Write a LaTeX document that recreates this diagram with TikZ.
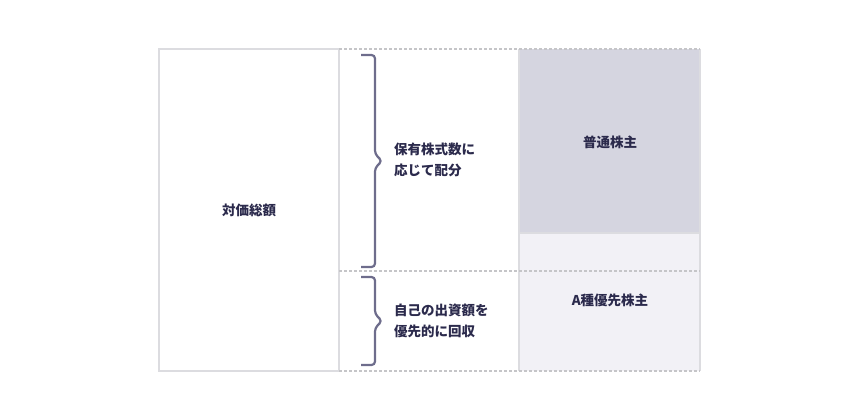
\documentclass[tikz,border=0pt]{standalone}
\usepackage{fontspec}
\newfontfamily\cjk{Noto Sans CJK JP}
\definecolor{ln}{HTML}{DCDCE0}
\definecolor{dk}{HTML}{D5D5E0}
\definecolor{lt}{HTML}{F2F1F6}
\definecolor{br}{HTML}{6E6D8C}
\definecolor{tx}{HTML}{2B2A4C}
\tikzset{lbl/.style={font=\cjk\bfseries\fontsize{13.5}{21}\selectfont,text=tx,align=left,inner sep=0pt},
 sep/.style={draw=ln,line width=2pt},
 dsh/.style={draw=ln!75!gray,line width=2.4pt,dash pattern=on 3pt off 2pt},
 brc/.style={draw=br,line width=2.2pt,rounded corners=3.5pt}}
\begin{document}
\begin{tikzpicture}[x=1pt,y=-1pt]
\useasboundingbox (0,0) rectangle (860,420);
\fill[dk] (519,49) rectangle (700,233);
\fill[lt] (519,233) rectangle (700,371);
\draw[ln,line width=2pt] (519,233) -- (700,233);
\draw[sep] (159,49) rectangle (339,371);
\draw[sep] (519,49) -- (519,371);
\draw[sep] (700,49) -- (700,371);
\draw[dsh] (339,49) -- (700,49);
\draw[dsh] (339,271) -- (700,271);
\draw[dsh] (339,371) -- (700,371);
\node[lbl] (total) at (249,210) {対価総額};
\node[lbl] (common) at (610,142) {普通株主};
\node[lbl] (pref) at (610,300) {A種優先株主};
\node[lbl,anchor=west] (t1) at (394,160) {保有株式数に\\応じて配分};
\node[lbl,anchor=west] (t2) at (394,321) {自己の出資額を\\優先的に回収};
\draw[brc] (361,55) -- (375,55) -- (375,154) -- (382,161) -- (375,168) -- (375,267) -- (361,267);
\draw[brc] (361,277) -- (375,277) -- (375,314) -- (382,321) -- (375,328) -- (375,365) -- (361,365);
\end{tikzpicture}
\end{document}
